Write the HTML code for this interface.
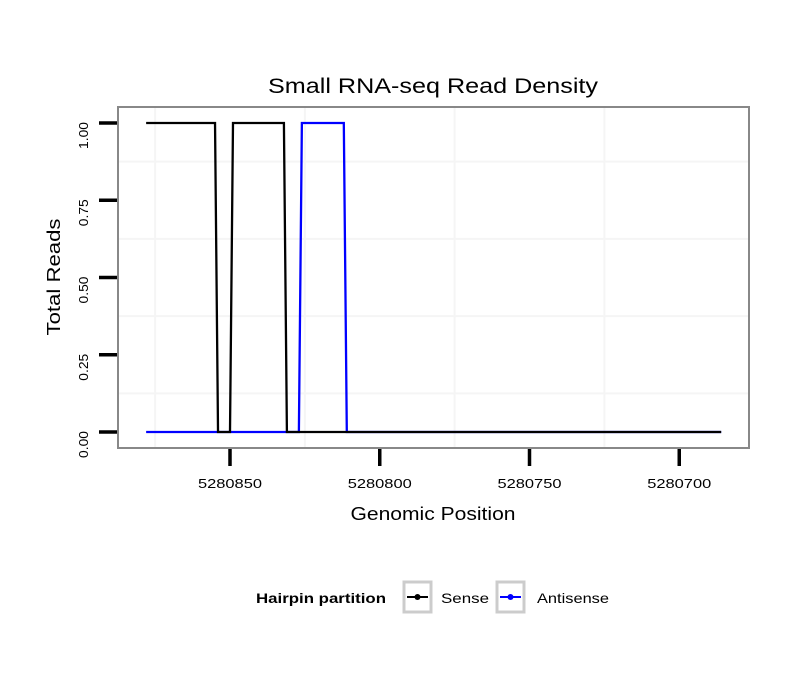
<!DOCTYPE html>
<html><head><meta charset="utf-8"><style>
body{margin:0;background:#fff;}
svg text{font-family:"Liberation Sans",sans-serif;}
</style></head><body>
<svg id="chart" width="810" height="690" xmlns="http://www.w3.org/2000/svg">
<rect width="810" height="690" fill="#fff"/>
<text x="433" y="93" font-size="21" text-anchor="middle" fill="#000" textLength="330" lengthAdjust="spacingAndGlyphs">Small RNA-seq Read Density</text>
<g id="grid"></g>
<g id="series"></g>
<rect x="118" y="107" width="631" height="341" fill="none" stroke="#888" stroke-width="2"/>
<g id="axes"></g>
<text x="433" y="520" font-size="18" text-anchor="middle" textLength="165" lengthAdjust="spacingAndGlyphs">Genomic Position</text>
<text transform="translate(60,277) rotate(-90)" font-size="18" text-anchor="middle" textLength="117" lengthAdjust="spacingAndGlyphs">Total Reads</text>
<g>
<text x="256" y="603" font-size="14" font-weight="bold" textLength="130" lengthAdjust="spacingAndGlyphs">Hairpin partition</text>
<g>
<rect x="404" y="582" width="27" height="30" fill="#fff" stroke="#ccc" stroke-width="3"/>
<line x1="407" y1="597" x2="428" y2="597" stroke="#000" stroke-width="2"/>
<circle cx="417.5" cy="597" r="3" fill="#000"/>
<text x="441" y="603" font-size="14" textLength="48" lengthAdjust="spacingAndGlyphs">Sense</text></g>
<g>
<rect x="497" y="582" width="27" height="30" fill="#fff" stroke="#ccc" stroke-width="3"/>
<line x1="500" y1="597" x2="521" y2="597" stroke="#00f" stroke-width="2"/>
<circle cx="510.5" cy="597" r="3" fill="#00f"/>
<text x="537" y="603" font-size="14" textLength="72" lengthAdjust="spacingAndGlyphs">Antisense</text></g>
</g>
</svg>
<script>
const senseX=[5280878,5280855,5280854,5280850,5280849,5280832,5280831,5280686];
const senseY=[1,1,0,0,1,1,0,0];
const antiX=[5280878,5280827,5280826,5280812,5280811,5280686];
const antiY=[0,0,1,1,0,0];
const xTicks=[5280850,5280800,5280750,5280700];
const yTicks=[0,0.25,0.5,0.75,1];
const yTickLabels=["0.00","0.25","0.50","0.75","1.00"];
const NS='http://www.w3.org/2000/svg';
function xs(p){return 230+(5280850-p)*2.995;}
function ys(v){return 432-v*309;}
function mk(tag,attrs,parent){const e=document.createElementNS(NS,tag);for(const k in attrs)e.setAttribute(k,attrs[k]);parent.appendChild(e);return e;}
const grid=document.getElementById('grid'),axes=document.getElementById('axes'),series=document.getElementById('series');
for(let v=0.125;v<=1;v+=0.25){const l=mk('line',{x1:119,x2:748,y1:ys(v),y2:ys(v),stroke:'#f5f5f5','stroke-width':2},grid);

}
for(let p=5280875;p>=5280675;p-=50){const x=xs(p);if(x<119||x>748)continue;const l=mk('line',{x1:x,x2:x,y1:108,y2:447,stroke:'#f5f5f5','stroke-width':2},grid);

}
function path(X,Y,color,name){let d='';X.forEach((p,i)=>{d+=(i?'L':'M')+xs(p)+','+ys(Y[i]);});const e=mk('path',{d:d,fill:'none',stroke:color,'stroke-width':2.3},series);

}
path(antiX,antiY,'#0000ff','antisense-line');
path(senseX,senseY,'#000000','sense-line');
yTicks.forEach((v,i)=>{const y=ys(v);const t=mk('line',{x1:99,x2:117,y1:y,y2:y,stroke:'#000','stroke-width':3.5},axes);


const tx=mk('text',{transform:`translate(88,${y-1}) rotate(-90)`,'font-size':13,'text-anchor':'end',textLength:27,lengthAdjust:'spacingAndGlyphs'},axes);tx.textContent=yTickLabels[i];

});
xTicks.forEach(p=>{const x=xs(p);const t=mk('line',{x1:x,x2:x,y1:449,y2:466,stroke:'#000','stroke-width':3.5},axes);


const tx=mk('text',{x:x,y:488,'font-size':13,'text-anchor':'middle',textLength:64,lengthAdjust:'spacingAndGlyphs'},axes);tx.textContent=p;

});
</script>
</body></html>
